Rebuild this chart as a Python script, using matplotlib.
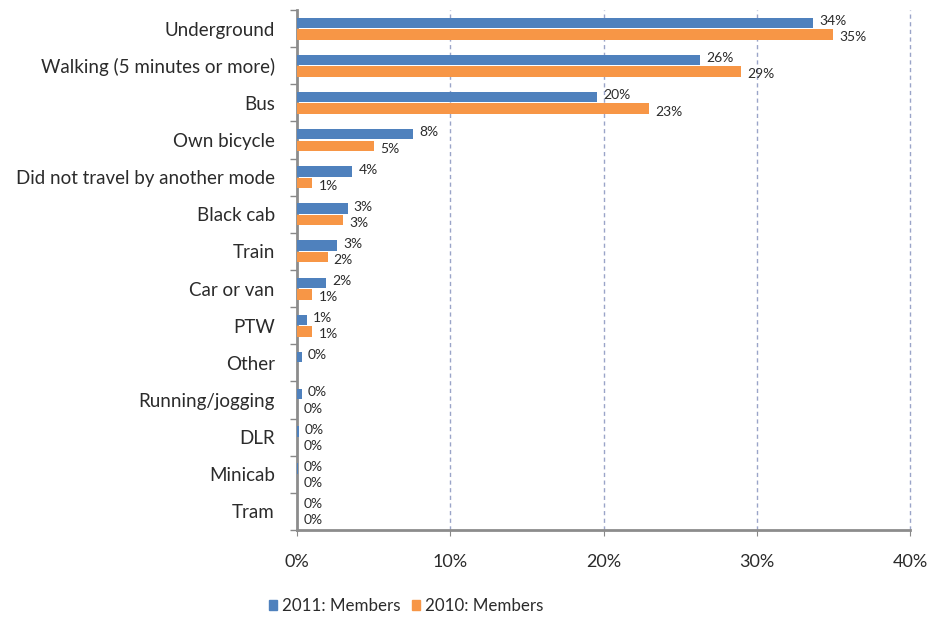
import matplotlib
matplotlib.use("Agg")
import matplotlib.pyplot as plt
import numpy as np
from matplotlib.patches import Patch

categories = ["Underground", "Walking (5 minutes or more)", "Bus", "Own bicycle",
              "Did not travel by another mode", "Black cab", "Train", "Car or van",
              "PTW", "Other", "Running/jogging", "DLR", "Minicab", "Tram"]
members_2011 = [33.7, 26.3, 19.6, 7.6, 3.6, 3.3, 2.6, 1.9, 0.65, 0.3, 0.3, 0.1, 0.05, 0.0]
members_2010 = [35.0, 29.0, 23.0, 5.0, 1.0, 3.0, 2.0, 1.0, 1.0, None, 0.0, 0.0, 0.0, 0.0]
x_ticks = [0, 10, 20, 30, 40]
x_tick_labels = ["0%", "10%", "20%", "30%", "40%"]
series_names = ["2011: Members", "2010: Members"]

c2011 = "#4F81BD"
c2010 = "#F79646"
font = "Lato"
txt = "#2b2b2b"

fig = plt.figure(figsize=(9.32, 6.19), dpi=100)
ax = fig.add_axes([297/932, 1-530/619, (910-297)/932, (530-10)/619])

n = len(categories)
y = np.arange(n)
h = 0.28
off = 0.155

for i in range(n):
    v1 = members_2011[i]
    v2 = members_2010[i]
    ax.barh(y[i] - off, v1, height=h, color=c2011, zorder=3)
    ax.text(v1 + 0.4, y[i] - off - 0.05, f"{v1:.0f}%", va="center", ha="left",
            fontsize=10, color=txt, family=font, zorder=4)
    if v2 is not None:
        ax.barh(y[i] + off, v2, height=h, color=c2010, zorder=3)
        ax.text(v2 + 0.4, y[i] + off + 0.08, f"{v2:.0f}%", va="center", ha="left",
                fontsize=10, color=txt, family=font, zorder=4)

ax.set_ylim(n - 0.5, -0.5)
ax.set_xlim(0, 40)
ax.set_yticks(y)
ax.set_yticklabels(categories, family=font, fontsize=13.5, color=txt)
ax.set_yticks(np.arange(-0.5, n, 1), minor=True)
ax.tick_params(axis="y", which="major", length=0, pad=16)
ax.tick_params(axis="y", which="minor", length=5, color="#888888", width=1)
ax.set_xticks(x_ticks)
ax.set_xticklabels(x_tick_labels, family=font, fontsize=13, color=txt)
ax.tick_params(axis="x", length=4, color="#888888", pad=13)

for xv in x_ticks[1:]:
    ax.axvline(xv, color="#9aa4c8", lw=1, ls=(0, (3, 2.5)), zorder=1, clip_on=False)

for s in ["top", "right"]:
    ax.spines[s].set_visible(False)
for s in ["left", "bottom"]:
    ax.spines[s].set_color("#8c8c8c")
    ax.spines[s].set_linewidth(2)

handles = [Patch(color=c2011, label=series_names[0]), Patch(color=c2010, label=series_names[1])]
fig.legend(handles=handles, loc="center", bbox_to_anchor=(406/932, 1-606/619), ncol=2,
           frameon=False, prop={"family": font, "size": 12.2}, handlelength=0.45,
           handleheight=0.45, handletextpad=0.3, columnspacing=0.7, labelcolor=txt)

fig.savefig("out.png", dpi=100)
